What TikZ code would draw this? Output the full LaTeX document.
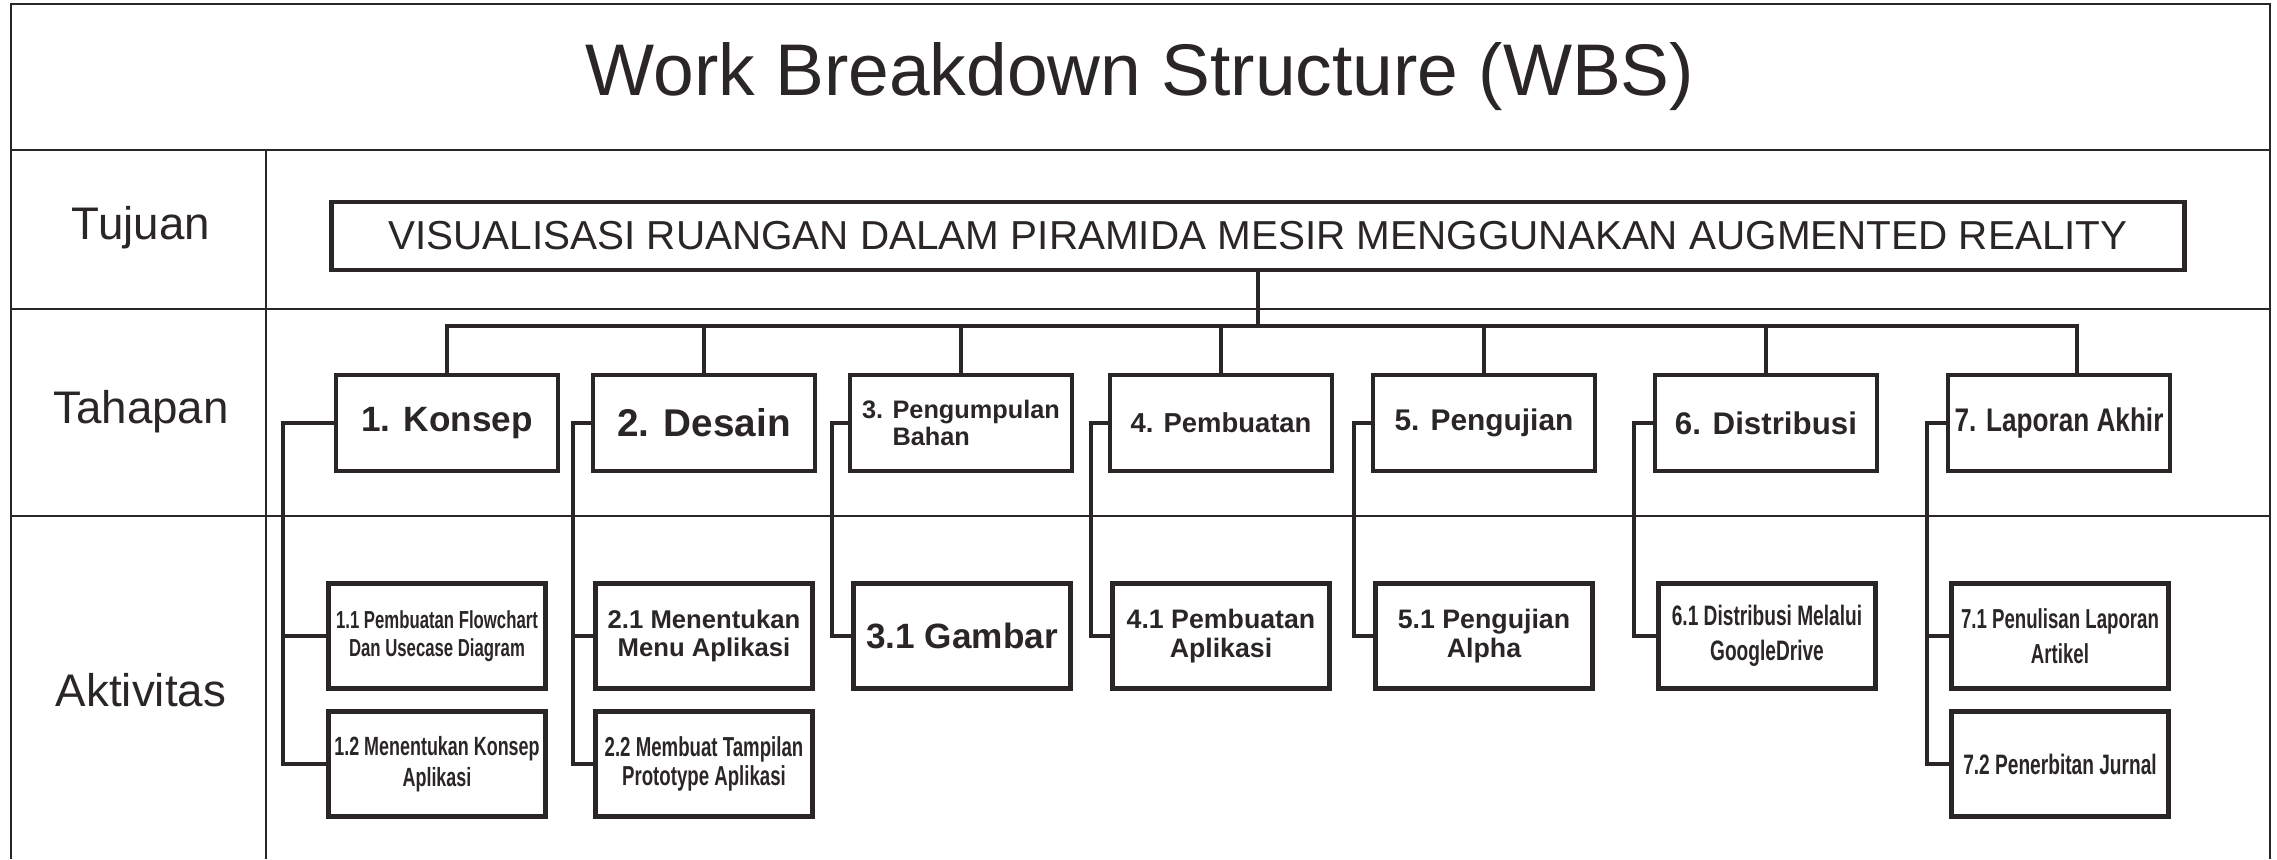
\documentclass[tikz,border=0pt]{standalone}
\usepackage{fontspec}
\setmainfont{Liberation Sans}
\newfontfamily\narrowfont[FakeStretch=0.68]{Liberation Sans}
\newfontfamily\semifont[FakeStretch=0.8]{Liberation Sans}
\definecolor{ink}{HTML}{2B2626}
\newcommand{\wbsfs}[2]{\fontsize{#1}{#2}\selectfont}

\begin{document}
\begin{tikzpicture}[x=0.01cm, y=-0.01cm, color=ink]
	\tikzset{grid/.style={line width=0.6pt},
		link/.style={line width=1.1pt},
		phase/.style={draw, line width=1.2pt, minimum width=2.22cm, minimum height=0.96cm, inner sep=1pt, align=center},
		task/.style={phase, minimum width=2.17cm, minimum height=1.05cm},
		rowlabel/.style={font=\wbsfs{13}{15}}}
	\useasboundingbox (0,0) rectangle (2277,859);
	% table
	\draw [grid] (11,859) -- (11,4) -- (2270,4) -- (2270,859);
	\draw [grid] (11,150) -- (2270,150);
	\draw [grid] (11,309) -- (2270,309);
	\draw [grid] (11,516) -- (2270,516);
	\draw [grid] (266,150) -- (266,859);
	\node (title) at (1140,77) {\wbsfs{20.8}{24}Work Breakdown Structure (WBS)};
	\node [rowlabel] (tujuan) at (141,228) {Tujuan};
	\node [rowlabel] (tahapan) at (141,412) {Tahapan};
	\node [rowlabel] (aktivitas) at (141,690) {Aktivitas};
	% tujuan
	\node [phase, font=\wbsfs{11.5}{13}, minimum width=18.52cm, minimum height=0.68cm] (goal) at (1258,236) {VISUALISASI RUANGAN DALAM PIRAMIDA MESIR MENGGUNAKAN AUGMENTED REALITY};
	% tahapan
	\node [phase, font=\bfseries\wbsfs{10}{12}] (kon) at (447,423) {1. Konsep};
	\node [phase, font=\bfseries\wbsfs{11}{13}] (des) at (704,423) {2. Desain};
	\node [phase, font=\bfseries\wbsfs{7.2}{7.8}, align=left] (kum) at (961,423) {3. Pengumpulan\\\hphantom{3. }Bahan};
	\node [phase, font=\bfseries\wbsfs{7.8}{9}] (bua) at (1221,423) {4. Pembuatan};
	\node [phase, font=\bfseries\wbsfs{8.5}{10}] (uji) at (1484,423) {5. Pengujian};
	\node [phase, font=\bfseries\wbsfs{8.9}{10}] (dis) at (1766,423) {6. Distribusi};
	\node [phase, font=\semifont\bfseries\wbsfs{9.3}{11}] (lap) at (2059,423) {7. Laporan Akhir};
	% aktivitas
	\node [task, font=\narrowfont\bfseries\wbsfs{7}{7.8}] (t11) at (437,636) {1.1 Pembuatan Flowchart\\Dan Usecase Diagram};
	\node [task, font=\narrowfont\bfseries\wbsfs{7.5}{9}] (t12) at (437,764) {1.2 Menentukan Konsep\\Aplikasi};
	\node [task, font=\bfseries\wbsfs{7.3}{7.8}] (t21) at (704,636) {2.1 Menentukan\\Menu Aplikasi};
	\node [task, font=\narrowfont\bfseries\wbsfs{7.8}{8.4}] (t22) at (704,764) {2.2 Membuat Tampilan\\Prototype Aplikasi};
	\node [task, font=\bfseries\wbsfs{10}{12}] (t31) at (962,636) {3.1 Gambar};
	\node [task, font=\bfseries\wbsfs{7.6}{8.2}] (t41) at (1221,636) {4.1 Pembuatan\\Aplikasi};
	\node [task, font=\bfseries\wbsfs{7.6}{8.2}] (t51) at (1484,636) {5.1 Pengujian\\Alpha};
	\node [task, font=\narrowfont\bfseries\wbsfs{8}{10}] (t61) at (1767,636) {6.1 Distribusi Melalui\\GoogleDrive};
	\node [task, font=\narrowfont\bfseries\wbsfs{7.8}{10}] (t71) at (2060,636) {7.1 Penulisan Laporan\\Artikel};
	\node [task, font=\narrowfont\bfseries\wbsfs{8}{10}] (t72) at (2060,764) {7.2 Penerbitan Jurnal};
	% connectors
	\coordinate (bus) at (1258,326);
	\draw [link] (goal.south) -- (bus);
	\foreach \p in {kon,des,kum,bua,uji,dis}
		\draw [link] (\p.north) |- (bus);
	\draw [link] ([xshift=0.18cm]lap.north) |- (bus);
	\draw [link] (kon.west) -- ++(-51,0) |- (t11.west);
	\draw [link] (kon.west) -- ++(-51,0) |- (t12.west);
	\draw [link] (des.west) -- ++(-18,0) |- (t21.west);
	\draw [link] (des.west) -- ++(-18,0) |- (t22.west);
	\foreach \p/\t/\d in {kum/t31/16, bua/t41/17, uji/t51/17, dis/t61/19}
		\draw [link] (\p.west) -- ++(-\d,0) |- (\t.west);
	\draw [link] (lap.west) -- ++(-19,0) |- (t71.west);
	\draw [link] (lap.west) -- ++(-19,0) |- (t72.west);
\end{tikzpicture}
\end{document}
